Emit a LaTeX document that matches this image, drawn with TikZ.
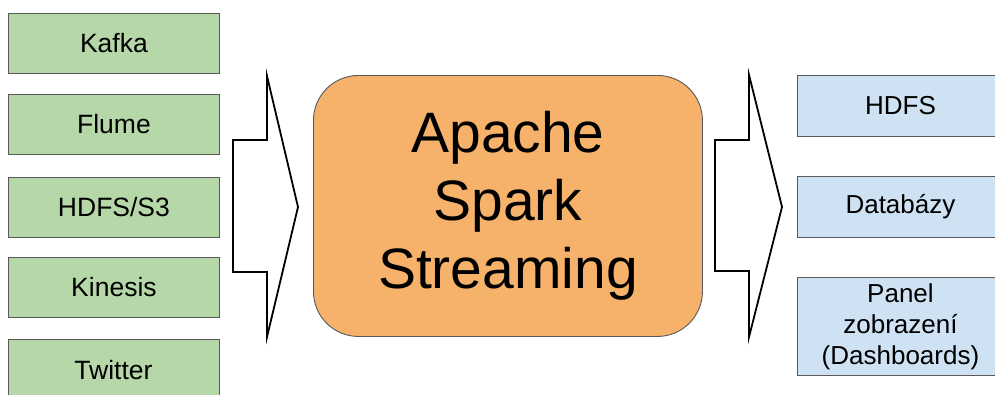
\documentclass[tikz,border=0pt]{standalone}
\usepackage{fontspec}
\setmainfont{Liberation Sans}
\definecolor{gfill}{HTML}{B6D7A8}
\definecolor{ofill}{HTML}{F6B26B}
\definecolor{bfill}{HTML}{CFE2F3}
\definecolor{edge}{HTML}{595959}
\begin{document}
\begin{tikzpicture}[x=1pt,y=-1pt,
  src/.style={draw=edge,line width=0.9pt,fill=gfill,minimum width=211pt,minimum height=60pt,inner sep=0pt,font=\fontsize{26.5}{30}\selectfont,anchor=north west},
  dst/.style={draw=edge,line width=0.9pt,fill=bfill,minimum width=206pt,inner sep=0pt,align=center,font=\fontsize{26}{31}\selectfont,anchor=north west},
  core/.style={draw=edge,line width=0.9pt,fill=ofill,rounded corners=45pt,minimum width=389pt,minimum height=261pt,inner sep=0pt,align=center,font=\fontsize{57}{68}\selectfont,anchor=north west},
  bigarrow/.style={draw=black,line width=1.8pt,fill=white,line join=miter}]
\useasboundingbox (0,0) rectangle (995,394);
\clip (0,0) rectangle (995,394);
% sources
\node[src] (kafka) at (8,13) {Kafka};
\node[src] (flume) at (8,94) {Flume};
\node[src] (hdfss3) at (8,177) {HDFS/S3};
\node[src] (kinesis) at (8,257) {Kinesis};
\node[src,minimum height=62pt] (twitter) at (8,339) {};
\node[font=\fontsize{26.5}{30}\selectfont] (twt) at (113.5,370) {Twitter};
% core
\node[core] (spark) at (313,75) {Apache\\Spark\\Streaming};
% sinks
\node[dst,minimum height=61pt] (hdfs) at (797,75) {HDFS};
\node[dst,minimum height=61pt] (db) at (797,176) {Databázy};
\node[dst,minimum height=98pt] (panel) at (797,277) {Panel\\zobrazení\\(Dashboards)};
% block arrows
\draw[bigarrow] (233,140) -- (267,140) -- (267,76) -- (298,207) -- (267,337) -- (267,272) -- (233,272) -- cycle;
\draw[bigarrow] (715,140) -- (749,140) -- (749,75) -- (782,207) -- (749,337) -- (749,271) -- (715,271) -- cycle;
\end{tikzpicture}
\end{document}
